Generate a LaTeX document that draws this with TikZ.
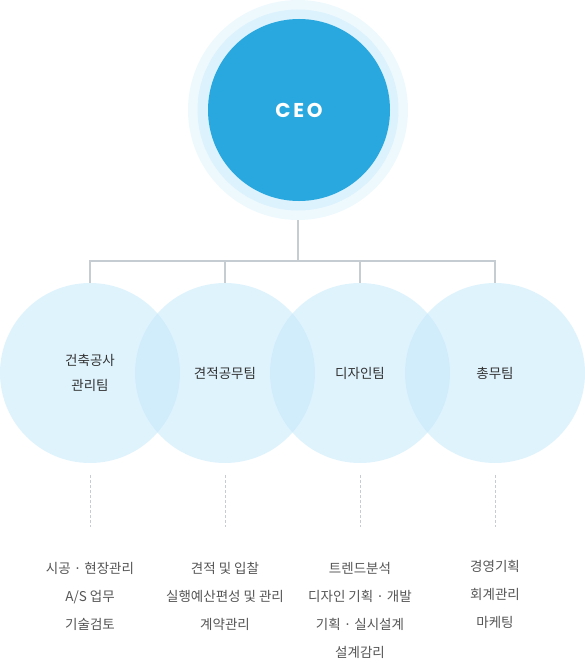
\documentclass[tikz,border=0pt]{standalone}
\usepackage{fontspec}
\setmainfont{Noto Sans CJK KR}
\newfontfamily\ceofont[LetterSpace=14]{Poppins}
\usetikzlibrary{positioning}

\definecolor{ceoblue}{RGB}{41,168,223}
\definecolor{ringin}{RGB}{220,242,253}
\definecolor{ringout}{RGB}{238,249,254}
\definecolor{teamblue}{RGB}{197,233,251}
\definecolor{linegray}{RGB}{197,205,210}
\definecolor{txt}{RGB}{51,51,51}
\definecolor{subtxt}{RGB}{85,85,85}

\tikzset{
  team/.style={circle,minimum size=180pt,inner sep=0pt,fill=teamblue,fill opacity=.55,
    text opacity=1,text=txt,align=center,font=\fontsize{13.5}{25}\selectfont},
  link/.style={linegray,line width=2pt},
  dots/.style={linegray,line width=1pt,dash pattern=on 3pt off 2pt},
  duty/.style={anchor=north,align=center,text=subtxt,inner sep=0pt,
    font=\fontsize{13.5}{28}\selectfont}
}

\begin{document}
\begin{tikzpicture}[x=1pt,y=-1pt]
  \useasboundingbox (0,0) rectangle (585,666);
  % CEO with its rings
  \node[circle,minimum size=220pt,inner sep=0pt,fill=ringout] (ceo) at (298,110) {};
  \node[circle,minimum size=201pt,inner sep=0pt,fill=ringin] (ceoring) at (298,110) {};
  \node[circle,minimum size=182pt,inner sep=0pt,fill=ceoblue,text=white,
        font=\ceofont\bfseries\fontsize{20}{20}\selectfont] (ceoin) at (299,110) {CEO};
  % teams
  \node[team] (t1) at (90,373) {건축공사\\관리팀};
  \node[team] (t2) at (225,373) {견적공무팀};
  \node[team] (t3) at (360,373) {디자인팀};
  \node[team] (t4) at (495,373) {총무팀};
  \coordinate (bar) at (298,261);
  \draw[link] (ceo.south) -- (bar);
  \foreach \t in {t1,t2,t3,t4}
    \draw[link] (\t.north) |- (bar);
  % duties
  \foreach \t/\x in {t1/90,t2/225,t3/360,t4/495} {
    \coordinate (\t a) at (\x,475);
    \coordinate (\t b) at (\x,527);
    \draw[dots] (\t a) -- (\t b);
  }
  \node[duty] (d1) at (90,562) {시공 · 현장관리\\A/S 업무\\기술검토};
  \node[duty] (d2) at (225,562) {견적 및 입찰\\실행예산편성 및 관리\\계약관리};
  \node[duty] (d3) at (360,562) {트렌드분석\\디자인 기획 · 개발\\기획 · 실시설계\\설계감리};
  \node[duty] (d4) at (495,560) {경영기획\\회계관리\\마케팅};
\end{tikzpicture}
\end{document}
